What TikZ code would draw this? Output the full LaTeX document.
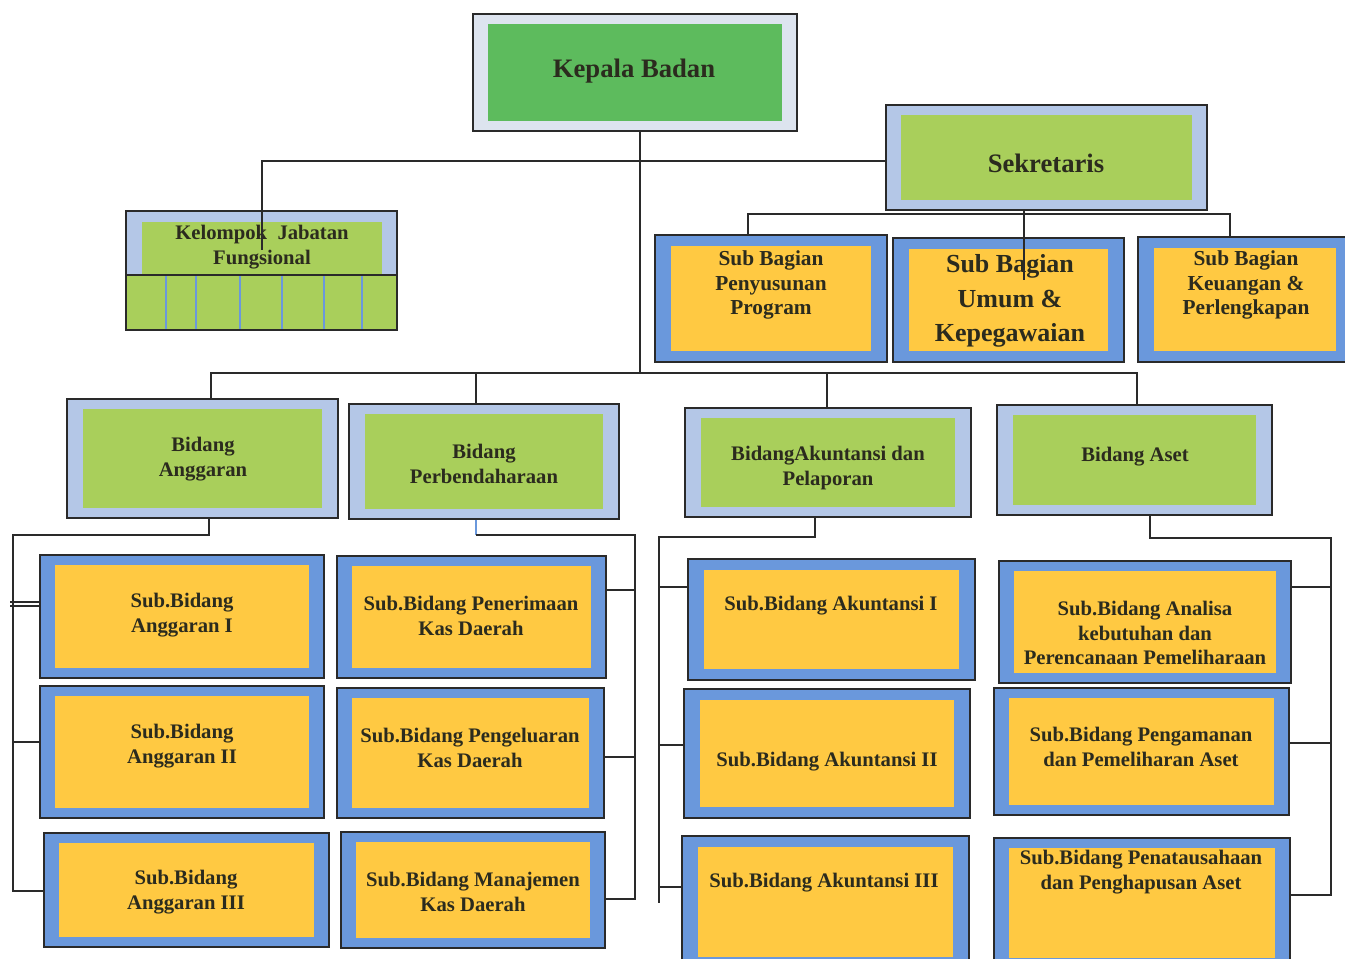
\documentclass[tikz,border=0pt]{standalone}
\usepackage{fontspec}
\setmainfont{Liberation Serif}
\usetikzlibrary{fit}
\definecolor{linec}{HTML}{2A2A2A}
\definecolor{txtc}{HTML}{2B2B1E}
\definecolor{lightframe}{HTML}{B4C7E7}
\definecolor{kframe}{HTML}{DDE4EF}
\definecolor{subblue}{HTML}{6A98DC}
\definecolor{lime}{HTML}{A9CF5B}
\definecolor{kgreen}{HTML}{5DBB5D}
\definecolor{yel}{HTML}{FFC942}
\tikzset{
  conn/.style={draw=linec, line width=1.3pt},
  txt/.style={text=txtc, font=\bfseries\fontsize{15.5}{18.5}\selectfont, align=center, inner sep=0pt},
  txtbig/.style={text=txtc, font=\bfseries\fontsize{20}{26}\selectfont, align=center, inner sep=0pt},
  txtmid/.style={text=txtc, font=\bfseries\fontsize{16}{18.5}\selectfont, align=center, inner sep=0pt},
}
\newcommand\orgbox[9]{%
  \node[fit={(#2,#3) (#4,#5)}, inner sep=0pt, draw=linec, line width=1.3pt, fill=#6] (#1) {};
  \fill[#7] ([shift={(#8,#9)}]#1.north west) rectangle ([shift={(-#8,-#9)}]#1.south east);
}
\begin{document}
\begin{tikzpicture}[x=0.75pt,y=-0.75pt]
\useasboundingbox (0,0) rectangle (1345,959);
\fill[white] (0,0) rectangle (1345,959);

% ---------- connectors (drawn first) ----------
\coordinate (t1) at (640,161);
\coordinate (kj) at (262,250);
\coordinate (bb) at (640,373);
\coordinate (bx1) at (211,373);
\coordinate (bx2) at (476,373);
\coordinate (bx3) at (827,373);
\coordinate (bx4) at (1137,373);
\coordinate (sbL) at (748,214);
\coordinate (sbR) at (1230,214);
\coordinate (sbM) at (1024,280);

% ---------- top boxes ----------
\orgbox{kepala}{473}{14}{797}{131}{kframe}{kgreen}{16}{11}
\node[txtbig] (kepala-t) at (634,71) {Kepala Badan};

\orgbox{sek}{886}{105}{1207}{210}{lightframe}{lime}{16}{11}
\node[txtbig] (sek-t) at (1046,163) {Sekretaris};

% Kelompok Jabatan Fungsional
\node[fit={(126,211) (397,275)}, inner sep=0pt, draw=linec, line width=1.3pt, fill=lightframe] (kjf) {};
\fill[lime] (142,222) rectangle (382,275);
\node[fit={(126,275) (397,330)}, inner sep=0pt, draw=linec, line width=1.3pt, fill=lime] (kjfg) {};
\foreach \gx in {166,196,240,282,324,362}
  \draw[subblue, line width=1pt] (\gx,276) -- (\gx,329);
\node[txt] (kjf-t) at (262,247) {Kelompok\ \ Jabatan\\Fungsional};

% Sub Bagian
\orgbox{pp}{655}{235}{887}{362}{subblue}{yel}{17}{12}
\node[txtmid] (pp-t) at (771,285) {Sub Bagian\\Penyusunan\\Program};
\orgbox{um}{893}{238}{1124}{362}{subblue}{yel}{17}{12}
\node[txtbig, font=\bfseries\fontsize{19.5}{26}\selectfont] (um-t) at (1010,301) {Sub Bagian\\Umum \&\\Kepegawaian};
\orgbox{keu}{1138}{237}{1352}{362}{subblue}{yel}{17}{12}
\node[txtmid] (keu-t) at (1246,285) {Sub Bagian\\Keuangan \&\\Perlengkapan};

% Bidang
\orgbox{ba}{67}{399}{338}{518}{lightframe}{lime}{17}{11}
\node[txt] (ba-t) at (203,459) {Bidang\\Anggaran};
\orgbox{bp}{349}{404}{619}{519}{lightframe}{lime}{17}{11}
\node[txt] (bp-t) at (484,464) {Bidang\\Perbendaharaan};
\orgbox{bak}{685}{408}{971}{517}{lightframe}{lime}{17}{11}
\node[txt] (bak-t) at (828,468) {BidangAkuntansi dan\\Pelaporan};
\orgbox{bs}{997}{405}{1272}{515}{lightframe}{lime}{17}{11}
\node[txt] (bs-t) at (1135,457) {Bidang Aset};

% Sub Bidang - Anggaran
\orgbox{sa1}{40}{555}{324}{678}{subblue}{yel}{16}{11}
\node[txt] (sa1-t) at (182,615) {Sub.Bidang\\Anggaran I};
\orgbox{sa2}{40}{686}{324}{818}{subblue}{yel}{16}{11}
\node[txt] (sa2-t) at (182,746) {Sub.Bidang\\Anggaran II};
\orgbox{sa3}{44}{833}{329}{947}{subblue}{yel}{16}{11}
\node[txt] (sa3-t) at (186,892) {Sub.Bidang\\Anggaran III};

% Sub Bidang - Perbendaharaan
\orgbox{sp1}{337}{556}{606}{678}{subblue}{yel}{16}{11}
\node[txt] (sp1-t) at (471,616) {Sub.Bidang Penerimaan\\Kas Daerah};
\orgbox{sp2}{337}{688}{604}{818}{subblue}{yel}{16}{11}
\node[txt] (sp2-t) at (470,748) {Sub.Bidang Pengeluaran\\Kas Daerah};
\orgbox{sp3}{341}{832}{605}{948}{subblue}{yel}{16}{11}
\node[txt] (sp3-t) at (473,892) {Sub.Bidang Manajemen\\Kas Daerah};

% Sub Bidang - Akuntansi
\orgbox{sk1}{688}{559}{975}{680}{subblue}{yel}{17}{12}
\node[txt] (sk1-t) at (831,606) {Sub.Bidang Akuntansi I};
\orgbox{sk2}{684}{689}{970}{818}{subblue}{yel}{17}{12}
\node[txt] (sk2-t) at (827,762) {Sub.Bidang Akuntansi II};
\orgbox{sk3}{682}{836}{969}{968}{subblue}{yel}{17}{12}
\node[txt] (sk3-t) at (824,883) {Sub.Bidang Akuntansi III};

% Sub Bidang - Aset
\orgbox{ss1}{999}{561}{1291}{683}{subblue}{yel}{16}{11}
\node[txt] (ss1-t) at (1145,633) {Sub.Bidang Analisa\\kebutuhan dan\\Perencanaan Pemeliharaan};
\orgbox{ss2}{994}{688}{1289}{815}{subblue}{yel}{16}{11}
\node[txt] (ss2-t) at (1141,747) {Sub.Bidang Pengamanan\\dan Pemeliharan Aset};
\orgbox{ss3}{994}{838}{1290}{968}{subblue}{yel}{16}{11}
\node[txt] (ss3-t) at (1141,872) {Sub.Bidang Penatausahaan\\dan Penghapusan Aset};

% ---------- connectors ----------
\draw[conn] (kepala.south -| bb) -- (bb);
\draw[conn] (sek.west |- t1) -- (t1 -| kj) -- (kj);
\draw[conn] (sek.south -| sbM) -- (sbM);
\draw[conn] (sbL |- pp.north) -- (sbL) -- (sbR) -- (sbR |- keu.north);
\draw[conn] (bx1 |- ba.north) -- (bx1) -- (bx4) -- (bx4 |- bs.north);
\draw[conn] (bx2) -- (bx2 |- bp.north);
\draw[conn] (bx3) -- (bx3 |- bak.north);

% Anggaran group
\coordinate (a1) at (209,535);
\coordinate (a2) at (13,535);
\coordinate (a3) at (13,891);
\coordinate (as1) at (10,602);
\coordinate (as1b) at (10,606);
\coordinate (as2) at (13,742);
\draw[conn] (ba.south -| a1) -- (a1) -- (a2) -- (a3) -- (a3 -| sa3.west);
\draw[conn, line width=1pt] (as1) -- (as1 -| sa1.west);
\draw[conn, line width=1pt] (as1b) -- (as1b -| sa1.west);
\draw[conn] (as2) -- (as2 -| sa2.west);

% Perbendaharaan group
\coordinate (p1) at (476,535);
\coordinate (p2) at (635,535);
\coordinate (p3) at (635,899);
\coordinate (ps1) at (635,590);
\coordinate (ps2) at (635,757);
\draw[draw=subblue, line width=1.1pt] (bp.south -| p1) -- (p1);
\draw[conn] (p1) -- (p2) -- (p3) -- (p3 -| sp3.east);
\draw[conn] (ps1) -- (ps1 -| sp1.east);
\draw[conn] (ps2) -- (ps2 -| sp2.east);

% Akuntansi group
\coordinate (k1) at (815,537);
\coordinate (k2) at (659,537);
\coordinate (k3) at (659,903);
\coordinate (ks1) at (659,587);
\coordinate (ks2) at (659,745);
\coordinate (ks3) at (659,887);
\draw[conn] (bak.south -| k1) -- (k1) -- (k2) -- (k3);
\draw[conn] (ks1) -- (ks1 -| sk1.west);
\draw[conn] (ks2) -- (ks2 -| sk2.west);
\draw[conn] (ks3) -- (ks3 -| sk3.west);

% Aset group
\coordinate (s1) at (1150,538);
\coordinate (s2) at (1331,538);
\coordinate (s3) at (1331,895);
\coordinate (ss1c) at (1331,587);
\coordinate (ss2c) at (1331,743);
\draw[conn] (bs.south -| s1) -- (s1) -- (s2) -- (s3) -- (s3 -| ss3.east);
\draw[conn] (ss1c) -- (ss1c -| ss1.east);
\draw[conn] (ss2c) -- (ss2c -| ss2.east);
\end{tikzpicture}
\end{document}
